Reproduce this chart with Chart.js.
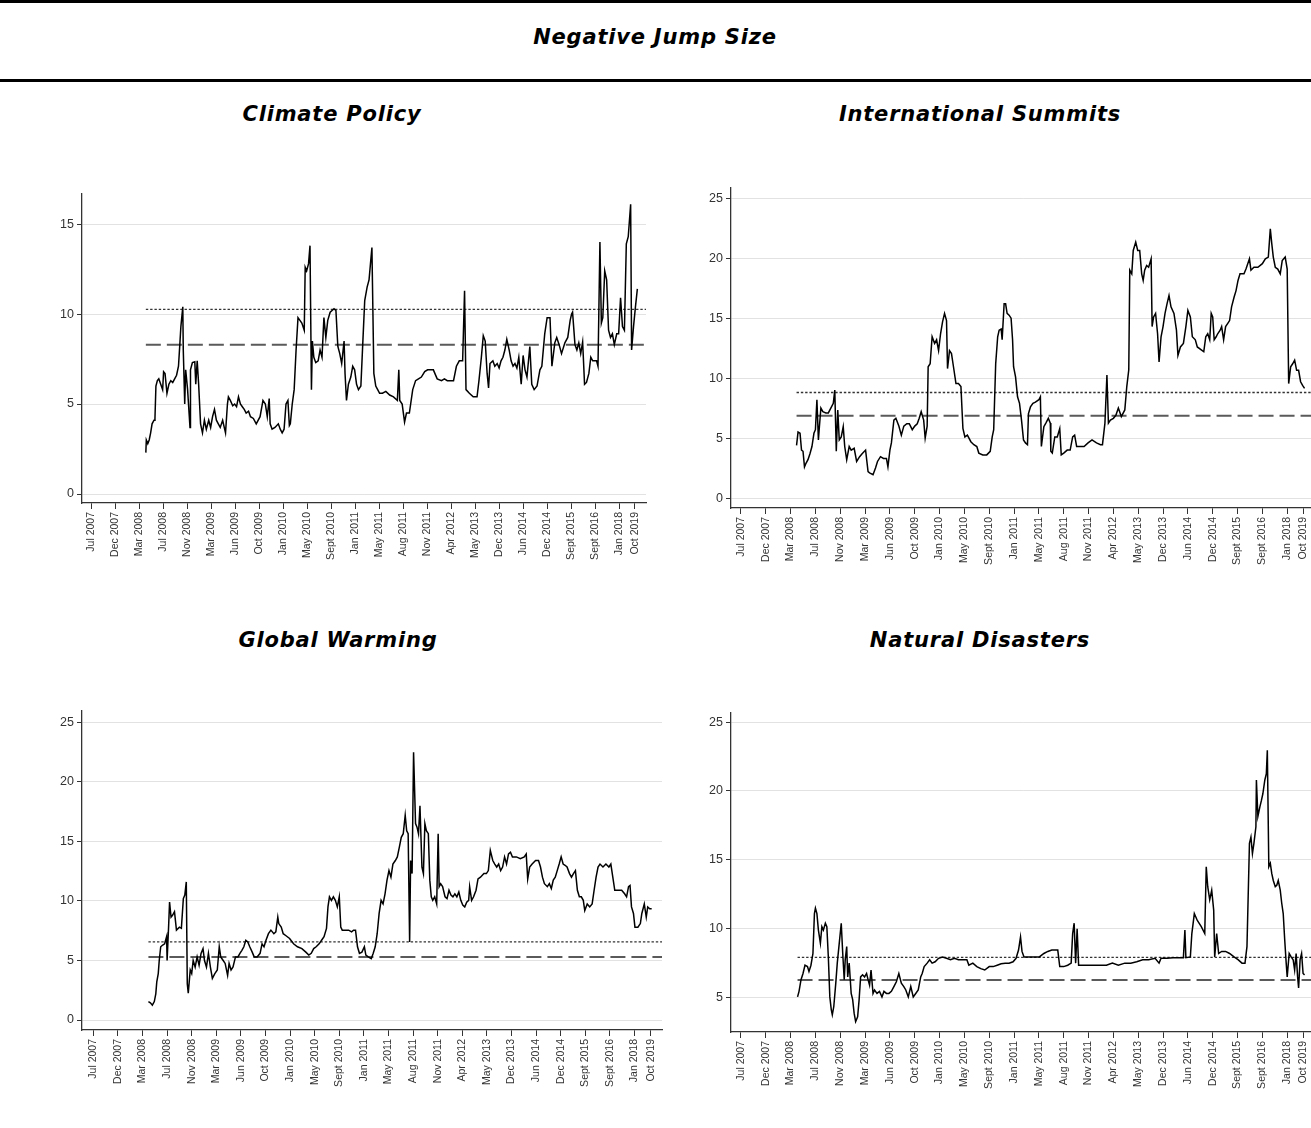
<!DOCTYPE html>
<html>
<head>
<meta charset="utf-8">
<title>Negative Jump Size</title>
<script src="https://cdn.jsdelivr.net/npm/chart.js@4.4.1/dist/chart.umd.min.js"></script>
<style>
  html, body { margin: 0; padding: 0; background: #fff; width: 1311px; height: 1128px; overflow: hidden; }
  .rule { position: absolute; left: 0; width: 1311px; height: 3px; background: #000; }
  .title { position: absolute; width: 600px; text-align: center; line-height: 24px;
           font-family: "DejaVu Sans", sans-serif; font-weight: bold; font-style: italic;
           font-size: 21px; letter-spacing: 0.8px; color: #000; }
  canvas { position: absolute; }
</style>
</head>
<body>
<div class="rule" style="top:0px"></div>
<div class="title" style="left:355px; top:25px">Negative Jump Size</div>
<div class="rule" style="top:79px"></div>

<div class="title" style="left:32px; top:102px">Climate Policy</div>
<div class="title" style="left:680px; top:102px">International Summits</div>
<div class="title" style="left:38px; top:628px">Global Warming</div>
<div class="title" style="left:680px; top:628px">Natural Disasters</div>

<canvas id="cp" width="644" height="390" style="left:22px; top:183px"></canvas>
<canvas id="is" width="664" height="401" style="left:671px; top:177px"></canvas>
<canvas id="gw" width="660" height="400" style="left:22px; top:700px"></canvas>
<canvas id="nd" width="664" height="400" style="left:671px; top:702px"></canvas>

<script>
// Observation numbers at which the date labels sit, and the labels themselves
const tickObs = [0, 50, 100, 150, 200, 250, 300, 350, 400, 450, 500, 550, 600, 650,
                 700, 750, 800, 850, 900, 950, 1000, 1050, 1100, 1133];
const tickLabels = ["Jul 2007", "Dec 2007", "Mar 2008", "Jul 2008", "Nov 2008", "Mar 2009",
                    "Jun 2009", "Oct 2009", "Jan 2010", "May 2010", "Sept 2010", "Jan 2011",
                    "May 2011", "Aug 2011", "Nov 2011", "Apr 2012", "May 2013", "Dec 2013",
                    "Jun 2014", "Dec 2014", "Sept 2015", "Sept 2016", "Jan 2018", "Oct 2019"];

// Negative jump size series: [observation, value]
const climatePolicy = [
  [114,2.3],[115,3.0],[118,2.8],[121,3.0],[124,3.4],[127,3.9],[131,4.1],[133,4.2],[135,6.0],[138,6.3],
  [141,6.4],[145,6.1],[149,5.8],[151,6.8],[154,6.7],[158,5.6],[162,6.1],[166,6.3],[170,6.2],[174,6.4],
  [178,6.6],[182,7.1],[185,8.4],[187,9.3],[191,10.4],[192,8.0],[195,5.0],[197,6.9],[201,5.8],[206,3.7],
  [207,6.9],[211,7.3],[216,7.35],[218,6.1],[221,7.4],[224,6.1],[228,3.9],[232,3.4],[236,4.1],[240,3.6],
  [245,4.1],[249,3.7],[253,4.3],[257,4.7],[261,4.1],[265,3.9],[269,3.7],[274,4.1],[280,3.4],[284,5.0],
  [286,5.4],[290,5.2],[295,4.9],[299,5.0],[303,4.85],[307,5.4],[311,5.0],[315,4.85],[319,4.7],[323,4.5],
  [328,4.6],[332,4.3],[338,4.2],[344,3.9],[352,4.3],[358,5.2],[363,5.0],[367,4.3],[371,5.3],[373,3.9],
  [377,3.6],[383,3.7],[390,3.9],[394,3.6],[398,3.4],[402,3.6],[406,5.0],[410,5.2],[413,3.8],[415,3.9],
  [419,5.0],[423,5.8],[427,8.0],[431,9.8],[435,9.65],[439,9.5],[444,9.1],[446,12.6],[449,12.4],[453,12.8],
  [456,13.8],[459,5.8],[461,8.5],[464,7.6],[468,7.3],[473,7.4],[477,8.0],[481,7.6],[485,9.8],[489,8.7],
  [493,9.65],[498,10.1],[502,10.2],[506,10.3],[510,10.2],[514,8.2],[518,7.8],[522,7.25],[527,8.5],[529,6.7],
  [532,5.2],[536,6.1],[541,6.5],[545,7.1],[549,6.9],[553,6.1],[557,5.8],[562,6.0],[566,8.4],[570,10.75],
  [575,11.5],[579,11.9],[582,12.8],[585,13.7],[589,6.7],[593,6.0],[597,5.8],[601,5.6],[607,5.6],[614,5.7],
  [622,5.5],[630,5.4],[638,5.2],[641,6.9],[643,5.2],[648,5.0],[653,4.0],[657,4.5],[663,4.5],[670,5.8],
  [676,6.3],[682,6.4],[688,6.5],[695,6.8],[701,6.9],[707,6.9],[713,6.9],[721,6.4],[730,6.3],[736,6.4],
  [742,6.3],[748,6.3],[755,6.3],[761,7.1],[767,7.4],[774,7.4],[778,11.3],[781,5.8],[788,5.6],[796,5.4],
  [804,5.4],[808,6.3],[813,7.6],[817,8.8],[821,8.5],[825,6.7],[828,5.9],[831,7.25],[837,7.4],[841,7.1],
  [846,7.25],[850,7.0],[854,7.4],[858,7.6],[862,8.0],[866,8.6],[871,8.0],[875,7.4],[879,7.1],[883,7.25],
  [887,7.0],[891,7.6],[896,6.1],[900,7.7],[904,6.9],[908,6.5],[914,8.2],[918,6.1],[923,5.8],[929,6.0],
  [935,6.9],[939,7.1],[945,8.9],[950,9.8],[956,9.8],[960,7.1],[966,8.4],[970,8.7],[975,8.3],[980,7.8],
  [987,8.4],[993,8.7],[998,9.65],[1001,10.0],[1003,10.1],[1008,8.3],[1012,8.0],[1016,8.4],[1020,7.8],[1024,8.45],
  [1028,6.1],[1032,6.2],[1037,6.7],[1041,7.6],[1045,7.4],[1049,7.4],[1053,7.4],[1056,7.1],[1060,14.0],[1063,9.5],
  [1066,9.8],[1070,12.4],[1074,11.9],[1078,9.1],[1082,8.7],[1086,8.9],[1090,8.3],[1095,8.9],[1099,8.9],[1103,10.9],
  [1107,9.3],[1111,9.1],[1115,13.9],[1119,14.3],[1124,16.1],[1126,8.0],[1130,9.3],[1134,10.4],[1138,11.4]
];

const internationalSummits = [
  [112,4.4],[115,5.5],[119,5.4],[122,4.0],[125,3.9],[128,2.6],[131,2.9],[135,3.2],[139,3.7],[143,4.3],
  [147,5.4],[150,5.7],[153,8.2],[156,4.85],[158,5.95],[161,7.5],[165,7.2],[171,7.1],[176,7.1],[181,7.5],
  [186,7.9],[189,9.0],[192,3.9],[195,7.35],[198,4.85],[202,5.1],[206,5.95],[209,4.3],[213,3.2],[218,4.3],
  [222,4.0],[228,4.15],[233,3.05],[239,3.45],[244,3.7],[251,4.0],[256,2.2],[259,2.1],[266,1.95],[271,2.5],
  [275,3.05],[281,3.45],[287,3.3],[293,3.3],[296,2.6],[300,4.0],[303,4.6],[308,6.5],[312,6.65],[318,6.0],
  [323,5.25],[328,6.0],[334,6.2],[339,6.2],[345,5.7],[350,6.0],[355,6.2],[359,6.65],[363,7.2],[368,6.5],
  [371,5.0],[375,6.0],[377,10.95],[381,11.2],[385,13.45],[390,12.9],[394,13.2],[398,12.3],[402,13.7],[406,14.7],
  [410,15.4],[414,14.8],[416,10.8],[420,12.3],[424,12.05],[428,10.95],[433,9.55],[438,9.55],[443,9.3],[447,5.8],
  [451,5.1],[456,5.25],[463,4.7],[469,4.45],[475,4.3],[479,3.75],[487,3.6],[495,3.6],[502,3.9],[506,5.1],
  [509,5.7],[513,11.2],[517,13.45],[520,14.0],[524,14.1],[526,13.2],[530,16.2],[533,16.2],[536,15.4],[540,15.25],
  [544,15.0],[547,13.2],[549,10.95],[553,10.1],[557,8.45],[561,7.9],[565,6.5],[569,4.85],[573,4.6],[577,4.45],
  [579,7.05],[583,7.6],[588,7.9],[593,8.0],[600,8.2],[603,8.45],[605,4.3],[610,5.95],[614,6.25],[619,6.65],
  [623,6.25],[624,3.9],[627,3.75],[632,5.1],[637,5.1],[642,5.8],[645,3.6],[650,3.75],[657,4.0],[663,4.0],
  [668,5.1],[672,5.25],[676,4.3],[683,4.3],[691,4.3],[699,4.6],[707,4.85],[716,4.6],[724,4.45],[728,4.45],
  [733,6.25],[737,10.25],[740,6.25],[744,6.5],[750,6.65],[755,6.9],[760,7.5],[766,6.8],[773,7.35],[777,9.3],
  [781,10.7],[783,19.0],[787,18.7],[790,20.65],[795,21.35],[799,20.65],[803,20.65],[807,18.7],[810,18.15],[813,19.0],
  [817,19.4],[821,19.25],[826,19.95],[828,14.3],[831,15.1],[835,15.4],[839,13.7],[842,11.35],[846,13.45],[850,14.3],
  [854,15.4],[858,16.2],[862,16.9],[866,15.95],[872,15.4],[877,14.0],[880,11.9],[885,12.6],[891,12.9],[896,14.3],
  [900,15.65],[905,15.1],[909,13.45],[915,13.2],[919,12.6],[927,12.35],[932,12.2],[936,13.45],[940,13.7],[944,13.2],
  [947,15.4],[950,15.1],[953,13.2],[957,13.45],[960,13.7],[965,14.0],[968,14.3],[972,13.2],[976,14.3],[980,14.55],
  [984,14.8],[988,15.95],[993,16.75],[997,17.3],[1001,18.15],[1005,18.7],[1013,18.7],[1017,19.1],[1024,19.95],[1027,19.0],
  [1033,19.25],[1041,19.25],[1050,19.55],[1056,19.95],[1062,20.1],[1066,22.45],[1069,21.2],[1072,20.1],[1076,19.25],[1081,19.1],
  [1086,18.7],[1090,19.8],[1096,20.1],[1100,19.1],[1103,9.55],[1107,10.95],[1111,11.2],[1115,11.5],[1119,10.65],[1123,10.65],
  [1127,9.7],[1131,9.4],[1135,9.15]
];

const globalWarming = [
  [112,1.55],[116,1.45],[120,1.25],[124,1.55],[127,2.2],[129,3.2],[132,3.9],[134,5.0],[137,6.15],[141,6.3],
  [145,6.4],[149,7.0],[150,5.0],[153,7.8],[155,9.9],[158,8.65],[161,8.8],[165,9.1],[169,7.55],[175,7.8],
  [179,7.7],[183,10.2],[186,10.5],[189,11.6],[191,3.05],[193,2.25],[197,4.2],[200,3.9],[203,5.0],[207,4.45],
  [211,5.3],[215,4.6],[219,5.6],[223,6.0],[226,5.0],[230,4.45],[234,5.6],[238,4.45],[242,3.5],[247,3.9],
  [252,4.2],[256,6.15],[259,5.3],[264,5.0],[268,4.75],[273,3.75],[276,4.75],[280,4.2],[284,4.45],[289,5.3],
  [294,5.3],[298,5.6],[302,5.85],[306,6.15],[310,6.7],[314,6.55],[318,6.15],[323,5.7],[327,5.3],[333,5.3],
  [339,5.6],[343,6.4],[347,6.15],[351,6.7],[356,7.25],[361,7.55],[367,7.25],[371,7.4],[375,8.65],[377,8.1],
  [382,7.8],[386,7.25],[391,7.1],[399,6.85],[407,6.4],[415,6.15],[424,6.0],[432,5.7],[438,5.45],[443,5.6],
  [448,6.0],[453,6.15],[459,6.4],[464,6.7],[469,7.0],[474,7.7],[477,9.5],[480,10.35],[484,10.05],[488,10.35],
  [492,10.05],[496,9.5],[500,10.35],[503,7.8],[506,7.55],[512,7.55],[519,7.55],[525,7.4],[529,7.55],[533,7.55],
  [537,6.15],[541,5.6],[546,5.7],[551,6.15],[554,5.45],[559,5.3],[565,5.15],[569,5.6],[573,6.15],[577,7.25],
  [581,8.95],[585,10.05],[589,9.75],[593,10.6],[597,11.75],[601,12.55],[605,12.0],[609,13.1],[614,13.4],[618,13.7],
  [622,14.5],[626,15.35],[630,15.65],[634,17.2],[637,15.9],[640,15.65],[643,6.55],[645,13.4],[648,12.3],[651,22.5],
  [655,16.5],[658,16.2],[661,15.65],[664,18.0],[668,12.85],[671,12.3],[674,16.5],[677,15.9],[681,15.65],[684,11.75],
  [687,10.35],[690,10.05],[694,10.35],[698,9.75],[701,15.65],[703,11.2],[706,11.45],[710,11.2],[715,10.35],[719,10.2],
  [723,10.9],[727,10.5],[731,10.35],[735,10.6],[739,10.35],[743,10.75],[747,10.05],[751,9.65],[755,9.5],[759,9.9],
  [763,10.05],[765,11.2],[769,10.05],[773,10.35],[778,10.9],[782,11.85],[787,12.0],[794,12.3],[799,12.3],[803,12.55],
  [807,14.25],[812,13.4],[816,13.1],[820,12.85],[824,13.1],[828,12.55],[832,12.85],[836,13.7],[840,13.1],[844,13.95],
  [848,14.1],[852,13.7],[860,13.7],[868,13.55],[876,13.7],[880,13.95],[883,11.85],[887,12.85],[892,13.1],[899,13.4],
  [905,13.4],[909,12.85],[913,12.0],[917,11.45],[923,11.2],[927,11.45],[931,11.05],[935,11.75],[939,12.0],[943,12.55],
  [947,13.1],[951,13.7],[955,13.1],[959,13.0],[963,12.85],[968,12.3],[972,12.0],[976,12.3],[980,12.55],[984,10.9],
  [988,10.35],[992,10.35],[996,10.05],[999,9.2],[1004,9.75],[1009,9.5],[1014,9.75],[1018,10.9],[1022,12.0],[1026,12.85],
  [1030,13.1],[1036,12.85],[1042,13.1],[1048,12.85],[1052,13.1],[1056,12.0],[1060,10.9],[1066,10.9],[1074,10.9],[1080,10.6],
  [1084,10.35],[1088,11.2],[1091,11.3],[1094,9.5],[1098,8.95],[1101,7.8],[1107,7.8],[1112,8.1],[1115,8.95],[1120,9.75],
  [1124,8.65],[1127,9.5],[1131,9.35],[1135,9.35]
];

const naturalDisasters = [
  [114,5.05],[117,5.45],[121,6.3],[125,6.75],[129,7.35],[134,7.25],[137,6.9],[141,7.35],[145,8.2],[148,11.1],
  [150,11.5],[153,11.1],[156,9.9],[160,8.95],[163,10.15],[166,9.9],[170,10.4],[173,10.15],[176,7.95],[179,5.05],
  [182,4.1],[184,3.75],[187,4.35],[191,6.05],[194,7.5],[198,8.95],[202,10.4],[205,8.2],[208,6.3],[210,7.75],
  [213,8.7],[215,6.5],[218,7.5],[222,5.3],[225,4.85],[228,3.85],[231,3.25],[235,3.6],[238,4.85],[241,6.5],
  [245,6.65],[249,6.5],[253,6.75],[256,6.3],[259,5.9],[262,7.0],[266,5.3],[269,5.55],[274,5.3],[279,5.45],
  [284,5.05],[288,5.45],[293,5.3],[298,5.3],[303,5.45],[308,5.8],[313,6.15],[318,6.75],[323,6.05],[328,5.8],
  [332,5.55],[337,5.05],[342,5.8],[347,5.05],[352,5.3],[357,5.55],[362,6.5],[365,6.75],[369,7.25],[375,7.5],
  [380,7.75],[385,7.5],[391,7.6],[398,7.85],[406,7.95],[414,7.85],[422,7.75],[430,7.85],[438,7.75],[447,7.75],
  [455,7.75],[459,7.35],[467,7.5],[475,7.25],[483,7.1],[491,7.0],[500,7.25],[508,7.25],[516,7.35],[524,7.45],
  [532,7.5],[540,7.5],[548,7.6],[554,7.85],[559,8.45],[563,9.4],[566,8.35],[570,7.95],[577,7.95],[589,7.95],
  [601,7.95],[610,8.2],[618,8.35],[626,8.45],[638,8.45],[642,7.25],[650,7.25],[658,7.35],[665,7.5],[668,9.65],
  [671,10.4],[674,7.5],[677,10.0],[680,7.35],[687,7.35],[699,7.35],[711,7.35],[724,7.35],[736,7.35],[748,7.5],
  [760,7.35],[773,7.5],[785,7.5],[797,7.6],[809,7.75],[821,7.75],[834,7.85],[842,7.5],[846,7.85],[858,7.85],
  [870,7.9],[883,7.9],[891,7.9],[894,9.9],[896,7.9],[905,7.95],[908,9.65],[913,11.1],[919,10.6],[927,10.15],
  [934,9.65],[937,14.5],[940,13.05],[944,12.1],[948,12.8],[952,11.35],[954,7.95],[958,9.65],[962,8.2],[968,8.35],
  [976,8.35],[984,8.2],[993,7.95],[1001,7.75],[1009,7.5],[1015,7.5],[1019,8.7],[1024,16.2],[1027,16.65],[1030,15.45],
  [1033,16.2],[1037,17.4],[1038,20.8],[1041,18.15],[1045,18.85],[1048,19.3],[1051,19.8],[1055,20.8],[1058,21.25],[1060,22.95],
  [1063,14.5],[1066,14.75],[1069,14.0],[1072,13.5],[1076,13.05],[1079,13.15],[1082,13.5],[1086,12.8],[1089,11.85],[1092,11.1],
  [1095,9.2],[1098,7.5],[1100,6.5],[1104,8.2],[1108,7.95],[1112,7.75],[1115,7.0],[1118,8.2],[1121,6.5],[1123,5.7],
  [1126,7.75],[1129,8.2],[1132,6.75],[1135,6.65]
];

// Threshold levels drawn as horizontal reference lines (dotted / dashed)
const climatePolicyLevels = { dotted: 10.26, dashed: 8.3 };
const internationalSummitsLevels = { dotted: 8.8, dashed: 6.87 };
const globalWarmingLevels = { dotted: 6.56, dashed: 5.3 };
const naturalDisastersLevels = { dotted: 7.92, dashed: 6.28 };

// Y-axis tick values for each panel
const yTicksCP = [0, 5, 10, 15];
const yTicks25 = [0, 5, 10, 15, 20, 25];
const yTicksND = [5, 10, 15, 20, 25];

const AXIS_FONT = "'Liberation Sans', Arial, sans-serif";

function drawPanel(canvasId, series, levels, yTicks, yRange, xRange) {
  const pts = series.map(p => ({ x: p[0], y: p[1] }));
  const first = series[0][0];
  const refLine = (y) => [{ x: first, y: y }, { x: xRange[1], y: y }];

  new Chart(document.getElementById(canvasId), {
    type: 'line',
    data: {
      datasets: [
        { data: pts, borderColor: '#000', borderWidth: 1.5, pointRadius: 0, tension: 0, fill: false },
        { data: refLine(levels.dotted), borderColor: '#333', borderWidth: 1.4,
          borderDash: [2.4, 1.9], pointRadius: 0, fill: false },
        { data: refLine(levels.dashed), borderColor: '#5a5a5a', borderWidth: 2,
          borderDash: [15, 6], pointRadius: 0, fill: false }
      ]
    },
    options: {
      responsive: false,
      animation: false,
      events: [],
      layout: { padding: { top: 10, right: 20, left: 0, bottom: 0 } },
      plugins: { legend: { display: false }, tooltip: { enabled: false } },
      scales: {
        x: {
          type: 'linear',
          min: xRange[0],
          max: xRange[1],
          afterBuildTicks: (s) => { s.ticks = tickObs.map(v => ({ value: v })); },
          afterFit: (s) => { s.height = 70; },
          ticks: {
            autoSkip: false, minRotation: 90, maxRotation: 90, padding: 3,
            color: '#333', font: { family: AXIS_FONT, size: 10.5 },
            callback: (v, i) => tickLabels[i]
          },
          grid: { drawOnChartArea: false, drawTicks: true, tickLength: 6, tickColor: '#333', tickWidth: 1 },
          border: { display: true, color: '#333', width: 1.3 }
        },
        y: {
          type: 'linear',
          min: yRange[0],
          max: yRange[1],
          afterBuildTicks: (s) => { s.ticks = yTicks.map(v => ({ value: v })); },
          afterFit: (s) => { s.width = 60; },
          ticks: { padding: 3, color: '#333', font: { family: AXIS_FONT, size: 12.5 } },
          grid: { color: '#e2e2e2', lineWidth: 1, drawTicks: true, tickLength: 5, tickColor: '#333', tickWidth: 1 },
          border: { display: true, color: '#333', width: 1.3 }
        }
      }
    }
  });
}

drawPanel('cp', climatePolicy, climatePolicyLevels, yTicksCP, [-0.5, 16.7], [-19, 1156]);
drawPanel('is', internationalSummits, internationalSummitsLevels, yTicks25, [-0.83, 25.9], [-20, 1156]);
drawPanel('gw', globalWarming, globalWarmingLevels, yTicks25, [-0.84, 26], [-23, 1156]);
drawPanel('nd', naturalDisasters, naturalDisastersLevels, yTicksND, [2.5, 25.7], [-20, 1156]);
</script>
</body>
</html>
